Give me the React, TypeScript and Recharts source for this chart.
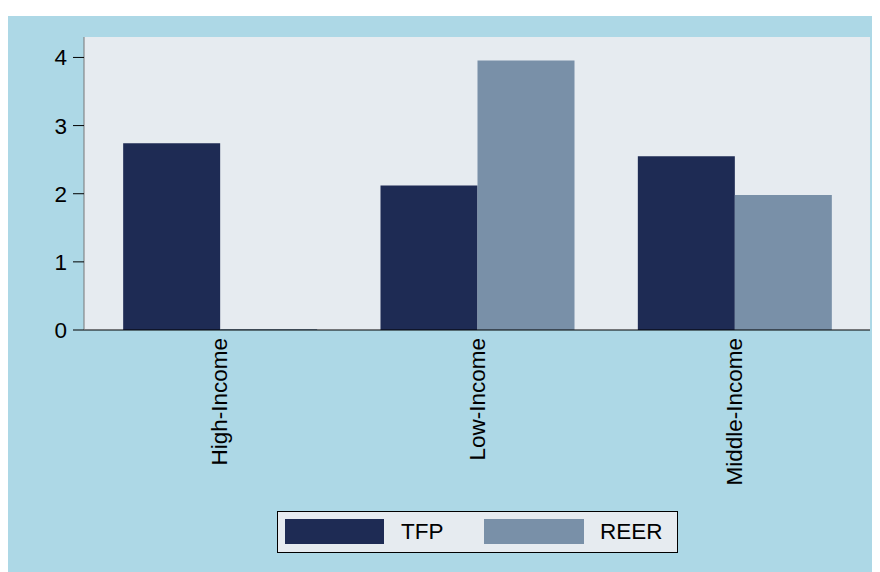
import React from "react";
import { BarChart, Bar, XAxis, YAxis, CartesianGrid, Legend } from "recharts";

const categories = ["High-Income", "Low-Income", "Middle-Income"];
const tfpValues = [2.74, 2.12, 2.55];
const reerValues = [0.015, 3.955, 1.98];
const yTicks = [0, 1, 2, 3, 4];
const seriesNames = ["TFP", "REER"];

const data = categories.map((c, i) => ({ name: c, TFP: tfpValues[i], REER: reerValues[i] }));

const FONT = "'Liberation Sans', Arial, Helvetica, sans-serif";
const FS = 22.5;
const TFP_COLOR = "#1e2b54";
const REER_COLOR = "#7990a8";
const PLOT_BG = "#e6ebf0";

const XTick = (props: any) => {
  const { x, y, payload } = props;
  const ty = y + 8;
  return (
    <text
      x={x}
      y={ty}
      transform={`rotate(-90, ${x}, ${ty})`}
      textAnchor="end"
      dominantBaseline="central"
      fontSize={FS}
      fontFamily={FONT}
      fill="#000"
    >
      {payload.value}
    </text>
  );
};

const LegendBox = () => {
  const sw = { position: "absolute" as const, top: 7, width: 99, height: 25 };
  const txt = {
    position: "absolute" as const,
    top: 5,
    fontSize: FS,
    fontFamily: FONT,
    color: "#000",
    lineHeight: "29px",
  };
  return (
    <div
      style={{
        position: "relative",
        width: 399,
        height: 40,
        background: PLOT_BG,
        border: "1px solid #000",
      }}
    >
      <div style={{ ...sw, left: 7, background: TFP_COLOR }} />
      <div style={{ ...txt, left: 123 }}>{seriesNames[0]}</div>
      <div style={{ ...sw, left: 206, width: 100, background: REER_COLOR }} />
      <div style={{ ...txt, left: 322 }}>{seriesNames[1]}</div>
    </div>
  );
};

export default function App() {
  return (
    <div style={{ paddingTop: 8 }}>
      <div style={{ width: 872, height: 556, background: "#add8e6" }}>
        <BarChart
          width={872}
          height={556}
          data={data}
          margin={{ top: 21, right: 10, left: 0, bottom: 42 }}
          barCategoryGap="12.5%"
          barGap={0}
        >
          <CartesianGrid fill={PLOT_BG} horizontal={false} vertical={false} />
          <XAxis
            dataKey="name"
            height={200}
            padding={{ left: 7, right: 7 }}
            tickSize={0}
            tickMargin={0}
            tickLine={false}
            axisLine={{ stroke: "#000", strokeWidth: 1.2 }}
            tick={<XTick />}
            interval={0}
          />
          <YAxis
            type="number"
            domain={[0, 4.3]}
            ticks={yTicks}
            width={76}
            tickSize={11}
            tickMargin={6}
            axisLine={{ stroke: "#777" }}
            tickLine={{ stroke: "#000" }}
            tick={{ fontSize: FS, fontFamily: FONT, fill: "#000" }}
          />
          <Bar dataKey="TFP" fill={TFP_COLOR} isAnimationActive={false} />
          <Bar dataKey="REER" fill={REER_COLOR} isAnimationActive={false} />
          <Legend
            layout="vertical"
            verticalAlign="middle"
            align="center"
            wrapperStyle={{ left: 269, top: 495, width: 401, height: 42 }}
            content={<LegendBox />}
          />
        </BarChart>
      </div>
    </div>
  );
}
